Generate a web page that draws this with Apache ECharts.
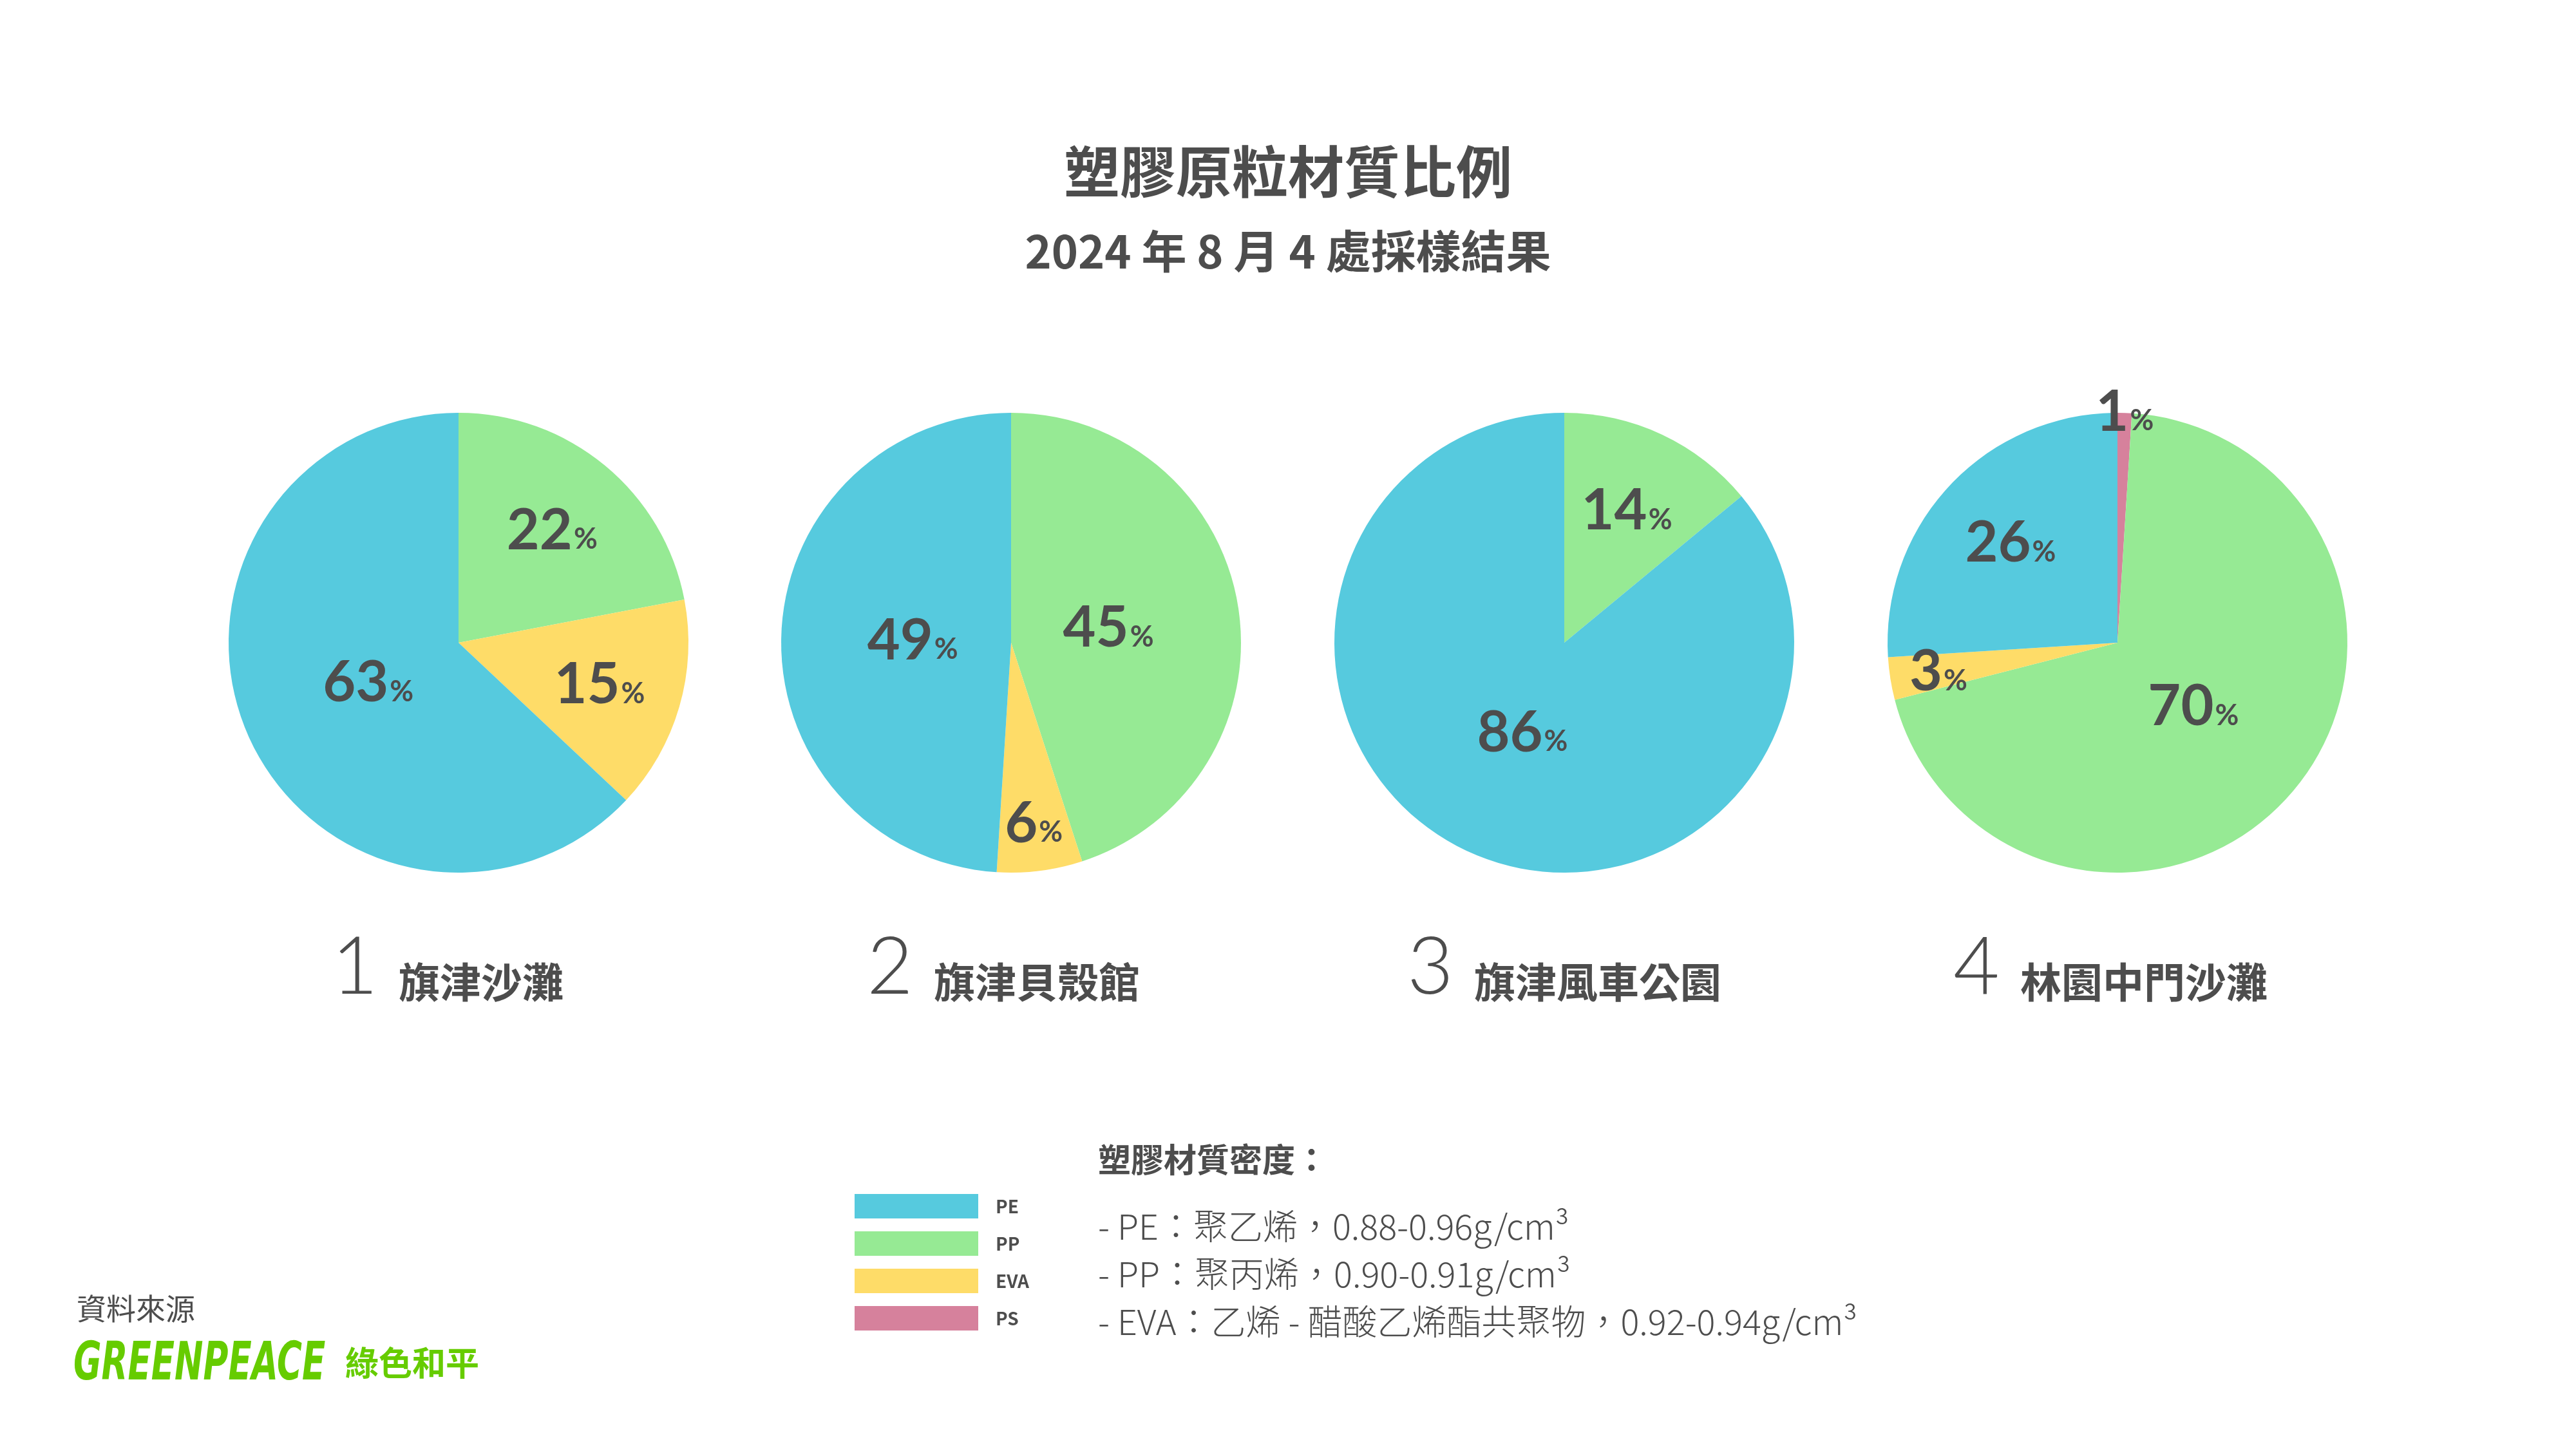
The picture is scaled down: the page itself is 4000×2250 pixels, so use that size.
<!DOCTYPE html>
<html><head><meta charset="utf-8">
<script src="https://cdn.jsdelivr.net/npm/echarts@6/dist/echarts.min.js"></script>
<style>html,body{margin:0;padding:0;background:#fff}#c{width:4000px;height:2250px}</style>
</head><body><div id="c"></div>
<script>
// ---- data ----
const siteNumbers = ['1', '2', '3', '4'];
const siteNames = ['旗津沙灘', '旗津貝殼館', '旗津風車公園', '林園中門沙灘'];
const materials = ['PS', 'PP', 'EVA', 'PE'];          // clockwise order from 12 o'clock
const valuesPE  = [63, 49, 86, 26];
const valuesPP  = [22, 45, 14, 70];
const valuesEVA = [15, 6, 0, 3];
const valuesPS  = [0, 0, 0, 1];
const legendOrder = ['PE', 'PP', 'EVA', 'PS'];
const densityTitle = '塑膠材質密度：';
const densityNotes = [
  '- PE：聚乙烯，0.88-0.96g/cm³',
  '- PP：聚丙烯，0.90-0.91g/cm³',
  '- EVA：乙烯 - 醋酸乙烯酯共聚物，0.92-0.94g/cm³'
];
const titleText = '塑膠原粒材質比例';
const subtitleText = '2024 年 8 月 4 處採樣結果';
const sourceLabel = '資料來源';
const logoLatin = 'GREENPEACE';
const logoCJK = '綠色和平';

// ---- style / layout ----
const TXT = '#4d4d4d';
const CJK = '"Noto Sans CJK TC", "Noto Sans CJK SC", sans-serif';
const colorMap = { PE: '#56CADE', PP: '#96EA94', EVA: '#FEDC68', PS: '#D6819C' };
const centersX = [712, 1570, 2429, 3288];
const siteLabelX = [690, 1553, 2424, 3272];
const centerY = 998;
const R = 357;
// label distance (fraction of radius) chosen by slice size
const labelTiers = [
  { lo: 40, hi: 1000, f: 0.42 },
  { lo: 10, hi: 40, f: 0.63 },
  { lo: 2, hi: 10, f: 0.78 },
  { lo: 0, hi: 2, f: 1.0 }
];

const valueSets = { PE: valuesPE, PP: valuesPP, EVA: valuesEVA, PS: valuesPS };

function siteData(i) {
  return materials
    .map(m => ({ name: m, value: valueSets[m][i] }))
    .filter(d => d.value > 0);
}

const series = [];
siteNumbers.forEach((n, i) => {
  series.push({
    type: 'pie',
    center: [centersX[i], centerY],
    radius: [0, R],
    startAngle: 90,
    clockwise: true,
    silent: true,
    label: { show: false },
    labelLine: { show: false },
    emphasis: { disabled: true },
    data: siteData(i).map(d => ({ ...d, itemStyle: { color: colorMap[d.name] } }))
  });
});
siteNumbers.forEach((n, i) => {
  labelTiers.forEach(t => {
    series.push({
      type: 'pie',
      center: [centersX[i], centerY],
      radius: [0, 2 * t.f * R],
      startAngle: 90,
      clockwise: true,
      silent: true,
      z: 5,
      emphasis: { disabled: true },
      labelLine: { show: false },
      itemStyle: { color: 'rgba(0,0,0,0)' },
      label: {
        position: 'inside',
        formatter: '{v|{c}}{p|%}',
        rich: {
          v: { fontFamily: 'Lato', fontWeight: 'bold', fontSize: 88, color: TXT, lineHeight: 92, verticalAlign: 'bottom' },
          p: { fontFamily: 'Lato', fontWeight: 'bold', fontSize: 45, color: TXT, lineHeight: 92, verticalAlign: 'bottom', padding: [0, 0, 8, 2] }
        }
      },
      data: siteData(i).map(d => ({ ...d, label: { show: d.value >= t.lo && d.value < t.hi } }))
    });
  });
});

const titles = [
  { text: titleText, left: 'center', top: 218,
    textStyle: { fontFamily: CJK, fontWeight: 'bold', fontSize: 87, color: TXT } },
  { text: subtitleText, left: 'center', top: 350,
    textStyle: { fontFamily: CJK, fontWeight: 'bold', fontSize: 70, color: TXT } }
];
siteNumbers.forEach((n, i) => {
  titles.push({
    text: '{n|' + n + '}{s|' + siteNames[i] + '}',
    left: siteLabelX[i], top: 1420, textAlign: 'center',
    textStyle: {
      rich: {
        n: { fontFamily: 'Lato', fontWeight: 300, fontSize: 124, color: TXT, lineHeight: 140, verticalAlign: 'bottom' },
        s: { fontFamily: CJK, fontWeight: 'bold', fontSize: 64, color: TXT, lineHeight: 140, verticalAlign: 'bottom', padding: [0, 0, 8, 32] }
      }
    }
  });
});
titles.push({ text: densityTitle, left: 1700, top: 1770,
  textStyle: { fontFamily: CJK, fontWeight: 'bold', fontSize: 51, color: TXT } });
titles.push({ text: densityNotes.join('\n'), left: 1700, top: 1862,
  textStyle: { fontFamily: CJK, fontWeight: 300, fontSize: 54, lineHeight: 74, color: TXT } });
titles.push({ text: sourceLabel, left: 114, top: 2004,
  textStyle: { fontFamily: CJK, fontWeight: 'normal', fontSize: 46, color: TXT } });

const option = {
  backgroundColor: '#ffffff',
  animation: false,
  title: titles,
  graphic: [
    { type: 'text', left: 114, top: 2080, scaleX: 0.72,
      style: { text: logoLatin, fill: '#66CC00',
        font: 'italic bold 82px "Liberation Sans Narrow", "DejaVu Sans Condensed", sans-serif' } },
    { type: 'text', left: 536, top: 2090,
      style: { text: logoCJK, fill: '#66CC00', font: 'bold 52px "Noto Sans CJK TC", sans-serif' } }
  ],
  legend: {
    data: legendOrder,
    orient: 'vertical',
    left: 1322, top: 1849,
    itemWidth: 192, itemHeight: 38, itemGap: 20,
    icon: 'rect',
    selectedMode: false,
    textStyle: { fontFamily: CJK, fontWeight: 'bold', fontSize: 28, color: TXT, padding: [0, 0, 0, 22] }
  },
  series: series
};
const chart = echarts.init(document.getElementById('c'), null, { renderer: 'canvas' });
chart.setOption(option);
</script></body></html>
